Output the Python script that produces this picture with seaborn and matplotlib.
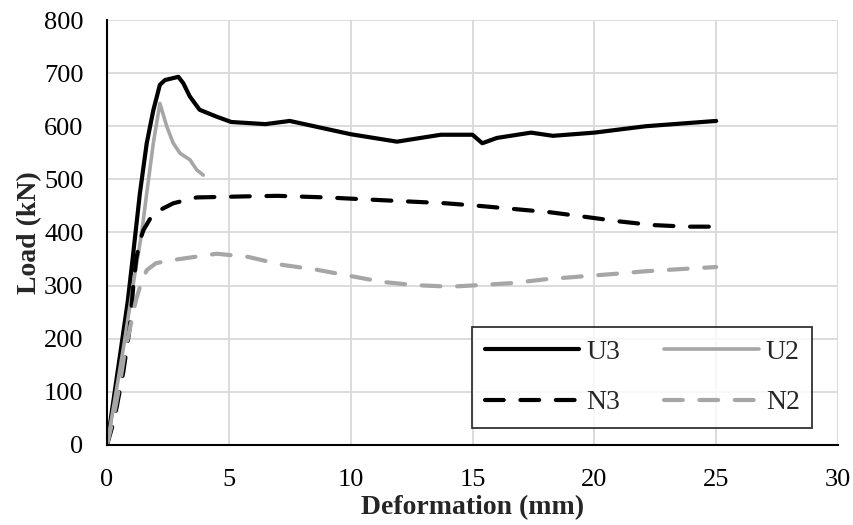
import matplotlib
matplotlib.use("Agg")
import matplotlib.pyplot as plt
import seaborn as sns
import pandas as pd

# Data
u3_x = [0, 0.3, 0.6, 0.85, 1.05, 1.35, 1.63, 1.9, 2.17, 2.38, 2.93, 3.13, 3.4, 3.8, 4.5, 5.1, 6.5, 7.5, 8.6, 10.0, 11.9, 13.7, 15.0, 15.4, 16.0, 17.4, 18.3, 20.0, 22.1, 25.0]
u3_y = [0, 95, 190, 270, 350, 474, 568, 630, 678, 687, 693, 681, 656, 631, 618, 608, 604, 610, 599, 585, 571, 584, 584, 568, 578, 588, 582, 588, 600, 610]

u2_x = [0, 0.3, 0.7, 1.1, 1.42, 1.63, 1.9, 2.17, 2.45, 2.72, 3.0, 3.4, 3.68, 3.95]
u2_y = [0, 80, 190, 310, 398, 474, 568, 643, 600, 568, 549, 537, 518, 508]

n3_x = [0, 0.2, 0.4, 0.67, 0.94, 1.08, 1.2, 1.35, 1.5, 1.9, 2.72, 3.68, 5.7, 7.0, 9.0, 11.2, 13.9, 15.3, 18.2, 19.7, 21.0, 22.4, 23.8, 25.0]
n3_y = [0, 32, 72, 138, 223, 300, 350, 385, 405, 436, 455, 466, 468, 469, 466, 461, 455, 450, 438, 429, 421, 414, 411, 411]

n2_x = [0, 0.3, 0.53, 0.74, 1.0, 1.19, 1.4, 1.63, 2.0, 2.5, 3.13, 4.5, 5.8, 7.2, 8.6, 10.0, 11.3, 12.6, 14.1, 15.3, 16.7, 18.0, 19.4, 20.8, 22.1, 23.5, 25.0]
n2_y = [0, 60, 116, 178, 232, 273, 305, 329, 342, 347, 351, 360, 354, 339, 330, 318, 307, 301, 298, 301, 305, 312, 317, 322, 327, 331, 335]

x_ticks = [0, 5, 10, 15, 20, 25, 30]
y_ticks = [0, 100, 200, 300, 400, 500, 600, 700, 800]

sns.set_theme(style="white")
plt.rcParams["font.family"] = ["Liberation Serif", "DejaVu Serif"]

fig = plt.figure(figsize=(8.54, 5.25), dpi=100)
ax = fig.add_axes([0.1253, 0.1524, 0.856, 0.8095])

black = "#000000"
gray = "#A6A6A6"
series = [
    ("U3", u3_x, u3_y, black, "-", 3.0),
    ("U2", u2_x, u2_y, gray, "-", 2.6),
    ("N3", n3_x, n3_y, black, "--", 3.0),
    ("N2", n2_x, n2_y, gray, "--", 3.0),
]
for name, xs, ys, col, ls, lw in series:
    df = pd.DataFrame({"x": xs, "y": ys})
    sns.lineplot(data=df, x="x", y="y", ax=ax, sort=False, color=col,
                 linestyle=ls, linewidth=lw, label=name)
ax.get_legend().remove()
for l in ax.get_lines():
    l.set_solid_capstyle("round")
    l.set_solid_joinstyle("round")
    l.set_dash_capstyle("round")
    l.set_dash_joinstyle("round")
    if l.get_linestyle() == "--":
        l.set_dashes((4.5, 4.0))

ax.set_xlim(0, 30)
ax.set_ylim(0, 800)
ax.set_xticks(x_ticks)
ax.set_yticks(y_ticks)
ax.grid(True, color="#D9D9D9", linewidth=1.3)
ax.set_axisbelow(True)
for s in ["top", "right"]:
    ax.spines[s].set_visible(False)
for s in ["left", "bottom"]:
    ax.spines[s].set_color("black")
    ax.spines[s].set_linewidth(1.5)
ax.tick_params(axis="both", length=0, labelsize=19, colors="black", pad=17)
ax.set_xlabel("Deformation (mm)", fontsize=20, fontweight="bold", labelpad=3)
ax.set_ylabel("Load (kN)", fontsize=20, fontweight="bold", labelpad=1)

handles, labels = ax.get_legend_handles_labels()
order = [0, 2, 1, 3]
leg = ax.legend([handles[i] for i in order], [labels[i] for i in order],
                ncol=2, loc="lower right", bbox_to_anchor=(0.9645, 0.04),
                borderaxespad=0.0,
                fontsize=20, handlelength=3.4, columnspacing=1.6,
                labelspacing=0.9, handletextpad=0.25, borderpad=0.45,
                frameon=True, fancybox=False, edgecolor="black")
leg.get_frame().set_linewidth(1.3)

fig.savefig("out.png", dpi=100, facecolor="white")
